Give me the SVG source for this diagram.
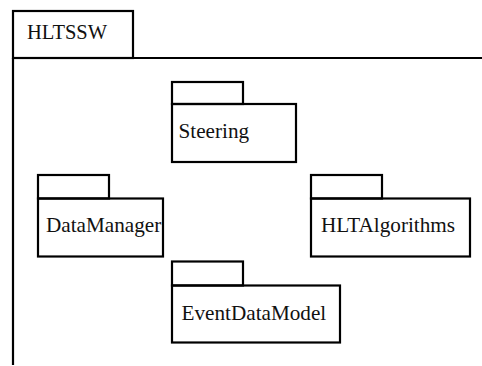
<svg xmlns="http://www.w3.org/2000/svg" width="482" height="366" viewBox="0 0 482 366">
<style>
.s{fill:none;stroke:#000;stroke-width:2.2}
.t{font-family:"Liberation Serif","Times New Roman",serif;font-size:21.2px;fill:#111}
</style>
<rect width="482" height="366" fill="#fff"/>
<g id="HLTSSW">
<rect class="s" x="13" y="11" width="120" height="47"/>
<line class="s" x1="13" y1="58" x2="482" y2="58"/>
<line class="s" x1="13" y1="58" x2="13" y2="365"/>
<text class="t" x="27" y="39" style="font-size:20.5px">HLTSSW</text>
</g>
<g id="Steering">
<rect class="s" x="172" y="82" width="71" height="22"/>
<rect class="s" x="172" y="104" width="124" height="58"/>
<text class="t" x="178.5" y="138">Steering</text>
</g>
<g id="DataManager">
<rect class="s" x="38" y="175" width="71" height="23.5"/>
<rect class="s" x="38" y="198.5" width="125" height="58"/>
<text class="t" x="46" y="231.5">DataManager</text>
</g>
<g id="HLTAlgorithms">
<rect class="s" x="311" y="175" width="71" height="23.5"/>
<rect class="s" x="311" y="198.5" width="159" height="58"/>
<text class="t" x="321" y="231.5">HLTAlgorithms</text>
</g>
<g id="EventDataModel">
<rect class="s" x="172" y="261.5" width="71" height="24"/>
<rect class="s" x="172" y="285.5" width="168" height="57"/>
<text class="t" x="181.5" y="320">EventDataModel</text>
</g>
<g id="connectors"></g>
</svg>
